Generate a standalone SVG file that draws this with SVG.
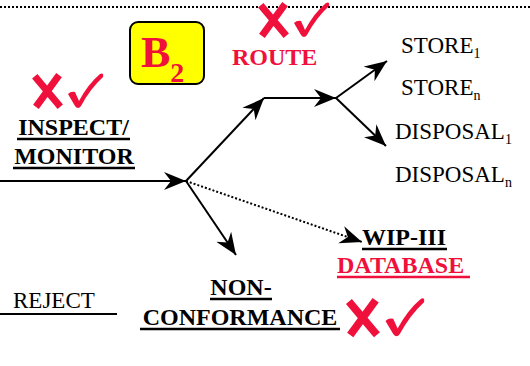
<svg xmlns="http://www.w3.org/2000/svg" width="530" height="366" viewBox="0 0 530 366">
  <style>
    text { font-family: "Liberation Serif", "DejaVu Serif", serif; }
    .lbl { font-size: 23px; fill: #000; }
    .bold { font-size: 24px; font-weight: bold; fill: #000; }
    .red { fill: #f0103c; }
    .ul { stroke: #000; stroke-width: 2.5; }
    .ulr { stroke: #f0103c; stroke-width: 2.5; }
    .wire { stroke: #000; stroke-width: 2; fill: none; }
    .dots { stroke: #000; stroke-width: 2; stroke-dasharray: 2 2; fill: none; }
  </style>
  <defs>
    <marker id="head" markerUnits="userSpaceOnUse" markerWidth="24" markerHeight="20" refX="22" refY="9" orient="auto" viewBox="0 0 24 18">
      <path d="M0,0 L22,9 L0,18 L7,9 Z" fill="#000"/>
    </marker>
    <!-- red cross and tick pair -->
    <g id="marks">
      <path d="M4,4 L25,29 M24,3 L5,29" stroke="#f0103c" stroke-width="7" stroke-linecap="square" fill="none"/>
      <path d="M35,19 Q38,16 42,17 L46,26 Q55,9 67,-1 Q71,-3 70,2 Q57,14 48,31 Q45,35 42,31 Z" fill="#f0103c"/>
    </g>
  </defs>

  <!-- dotted border along the top -->
  <line x1="0" y1="7" x2="530" y2="7" class="dots"/>

  <!-- B2 badge -->
  <g id="badge">
    <rect x="130" y="22" width="74" height="62" rx="8" fill="#ffff00" stroke="#000" stroke-width="2"/>
    <text x="141" y="67" font-size="44" font-weight="bold" fill="#f0103c">B<tspan font-size="28" dy="15">2</tspan></text>
  </g>

  <!-- connectors -->
  <g id="connectors">
    <line x1="0" y1="181" x2="186" y2="181" class="wire" marker-end="url(#head)"/>
    <line x1="186" y1="181" x2="264" y2="98" class="wire" marker-end="url(#head)"/>
    <line x1="264" y1="98" x2="336" y2="98" class="wire" marker-end="url(#head)"/>
    <line x1="336" y1="98" x2="387" y2="61" class="wire" marker-end="url(#head)"/>
    <line x1="336" y1="98" x2="386" y2="146" class="wire" marker-end="url(#head)"/>
    <line x1="186" y1="181" x2="236" y2="255" class="wire" marker-end="url(#head)"/>
    <line x1="186" y1="181" x2="362" y2="242" class="dots" marker-end="url(#head)"/>
  </g>

  <g id="inspect">
    <use href="#marks" transform="translate(33,75)"/>
    <text x="73.5" y="135" class="bold" text-anchor="middle">INSPECT/</text>
    <line x1="17" y1="139" x2="130" y2="139" class="ul"/>
    <text x="74" y="164" class="bold" text-anchor="middle">MONITOR</text>
    <line x1="13" y1="168" x2="135" y2="168" class="ul"/>
  </g>

  <g id="route">
    <use href="#marks" transform="translate(259,4)"/>
    <text x="232" y="65" class="bold red">ROUTE</text>
  </g>

  <g id="store1"><text x="401" y="53" class="lbl">STORE<tspan font-size="14" dy="5">1</tspan></text></g>
  <g id="storen"><text x="401" y="95" class="lbl">STORE<tspan font-size="14" dy="5">n</tspan></text></g>
  <g id="disposal1"><text x="395" y="139" class="lbl">DISPOSAL<tspan font-size="14" dy="5">1</tspan></text></g>
  <g id="disposaln"><text x="395" y="182" class="lbl">DISPOSAL<tspan font-size="14" dy="5">n</tspan></text></g>

  <g id="wip">
    <text x="362" y="245" class="bold">WIP-III</text>
    <line x1="362" y1="249" x2="447" y2="249" class="ul"/>
    <text x="337" y="273" class="bold red">DATABASE</text>
    <line x1="337" y1="277" x2="470" y2="277" class="ulr"/>
  </g>

  <g id="nonconformance">
    <text x="241" y="295" class="bold" text-anchor="middle">NON-</text>
    <line x1="210" y1="299" x2="272" y2="299" class="ul"/>
    <text x="240" y="325" class="bold" text-anchor="middle">CONFORMANCE</text>
    <line x1="140" y1="329" x2="340" y2="329" class="ul"/>
    <use href="#marks" transform="translate(347,300) scale(1.1)"/>
  </g>

  <g id="reject">
    <text x="13" y="308" class="lbl" font-size="24">REJECT</text>
    <line x1="0" y1="314" x2="117" y2="314" stroke="#000" stroke-width="2"/>
  </g>
</svg>
